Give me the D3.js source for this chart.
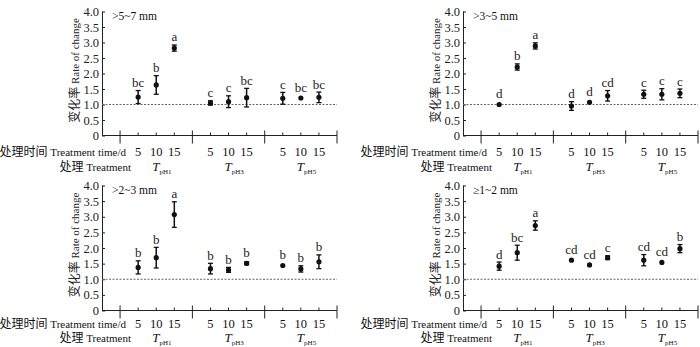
<!DOCTYPE html>
<html>
<head>
<meta charset="utf-8">
<script src="https://cdn.jsdelivr.net/npm/d3@7"></script>
<style>
  body { margin: 0; background: #fff; }
</style>
</head>
<body>
<div id="chart"></div>
<script>
(function() {
  const FONT = '"Liberation Serif", "Noto Sans CJK SC", serif';

  // data
  const sizeClasses = [">5~7 mm", ">3~5 mm", ">2~3 mm", "\u22651~2 mm"];
  const treatments = ["pH1", "pH3", "pH5"];
  const days = ["5", "10", "15"];
  const yTicks = [0, 0.5, 1.0, 1.5, 2.0, 2.5, 3.0, 3.5, 4.0];

  const means57 = [1.24, 1.63, 2.82, 1.05, 1.09, 1.22, 1.20, 1.21, 1.23];
  const errs57 = [0.21, 0.30, 0.10, 0.07, 0.19, 0.30, 0.19, 0.02, 0.17];
  const letters57 = ["bc", "b", "a", "c", "c", "bc", "c", "bc", "bc"];

  const means35 = [1.00, 2.21, 2.89, 0.95, 1.07, 1.28, 1.33, 1.33, 1.36];
  const errs35 = [0.02, 0.10, 0.10, 0.14, 0.03, 0.17, 0.13, 0.18, 0.14];
  const letters35 = ["d", "b", "a", "d", "d", "cd", "c", "c", "c"];

  const means23 = [1.38, 1.69, 3.07, 1.34, 1.30, 1.51, 1.44, 1.33, 1.56];
  const errs23 = [0.21, 0.33, 0.41, 0.17, 0.08, 0.05, 0.02, 0.10, 0.22];
  const letters23 = ["b", "b", "a", "b", "b", "b", "b", "b", "b"];

  const means12 = [1.42, 1.85, 2.72, 1.61, 1.46, 1.69, 1.61, 1.54, 1.98];
  const errs12 = [0.13, 0.24, 0.15, 0.02, 0.02, 0.06, 0.18, 0.02, 0.13];
  const letters12 = ["d", "bc", "a", "cd", "cd", "c", "cd", "cd", "b"];

  const panels = [
    { title: sizeClasses[0], means: means57, errs: errs57, letters: letters57, x0: 102, y0: 135.5, y1: 11.5, row1: 156, row2: 171 },
    { title: sizeClasses[1], means: means35, errs: errs35, letters: letters35, x0: 463, y0: 135.5, y1: 11.5, row1: 156, row2: 171 },
    { title: sizeClasses[2], means: means23, errs: errs23, letters: letters23, x0: 102, y0: 310.5, y1: 185.5, row1: 327.5, row2: 342 },
    { title: sizeClasses[3], means: means12, errs: errs12, letters: letters12, x0: 463, y0: 310.5, y1: 185.5, row1: 327.5, row2: 342 }
  ];

  const svg = d3.select("#chart")
    .append("svg")
      .attr("width", 700)
      .attr("height", 347)
      .attr("font-family", FONT);

  panels.forEach(drawPanel);

  // one font for every text, axis ticks included
  svg.selectAll("text").attr("font-family", FONT);

  // Chinese part a bit larger than the Latin part, like the original
  function mixed(sel, zh, en, enSize) {
    sel.append("tspan").attr("font-size", 12).text(zh);
    sel.append("tspan").attr("font-size", enSize).text(en);
  }

  function drawPanel(p) {
    const g = svg.append("g");

    const y = d3.scaleLinear().domain([0, 4]).range([p.y0, p.y1]);
    // slot positions: boundaries at 1, 5, 9, 13; points in between
    const x = d3.scaleLinear().domain([0, 13]).range([p.x0, p.x0 + 235]);
    const pos = i => 2 + Math.floor(i / 3) * 4 + (i % 3);

    // y axis, ticks pointing inward
    const yAxis = g.append("g")
      .attr("transform", `translate(${p.x0},0)`)
      .call(d3.axisRight(y)
        .tickValues(yTicks)
        .tickSize(3)
        .tickFormat(d => d === 0 ? "0" : d3.format(".1f")(d)));
    yAxis.attr("font-family", null);
    yAxis.select(".domain").attr("d", `M0.5,${p.y1}V${p.y0}`).attr("stroke", "#222");
    yAxis.selectAll(".tick line").attr("stroke", "#222");
    yAxis.selectAll(".tick text")
      .attr("x", -3)
      .attr("text-anchor", "end")
      .attr("font-size", 12.5)
      .attr("fill", "#222");

    // x axis line
    g.append("line")
      .attr("x1", x(0)).attr("x2", x(13))
      .attr("y1", p.y0).attr("y2", p.y0)
      .attr("stroke", "#222");

    // major ticks at group boundaries
    g.selectAll(".major")
      .data([1, 5, 9, 13])
      .enter().append("line")
        .attr("x1", d => x(d)).attr("x2", d => x(d))
        .attr("y1", p.y0 - 5).attr("y2", p.y0 + 8)
        .attr("stroke", "#222");

    // minor ticks at points
    g.selectAll(".minor")
      .data(d3.range(9))
      .enter().append("line")
        .attr("x1", d => x(pos(d))).attr("x2", d => x(pos(d)))
        .attr("y1", p.y0 - 3).attr("y2", p.y0)
        .attr("stroke", "#222");

    // reference line at 1.0
    g.append("line")
      .attr("x1", x(0)).attr("x2", x(13))
      .attr("y1", y(1)).attr("y2", y(1))
      .attr("stroke", "#666")
      .attr("stroke-width", 1)
      .attr("stroke-dasharray", "2,1.5");

    // error bars
    const bars = g.selectAll(".err")
      .data(p.means.map((m, i) => ({ m, e: p.errs[i], i })))
      .enter().append("g");

    bars.filter(d => d.e > 0.04).each(function(d) {
      const b = d3.select(this);
      const cx = x(pos(d.i));
      b.append("line")
        .attr("x1", cx).attr("x2", cx)
        .attr("y1", y(d.m - d.e)).attr("y2", y(d.m + d.e))
        .attr("stroke", "#111").attr("stroke-width", 1.5);
      [d.m - d.e, d.m + d.e].forEach(v => {
        b.append("line")
          .attr("x1", cx - 2.5).attr("x2", cx + 2.5)
          .attr("y1", y(v)).attr("y2", y(v))
          .attr("stroke", "#111").attr("stroke-width", 1.3);
      });
    });

    bars.append("circle")
      .attr("cx", d => x(pos(d.i)))
      .attr("cy", d => y(d.m))
      .attr("r", 2.6)
      .attr("fill", "#111");

    // significance letters
    bars.append("text")
      .attr("x", d => x(pos(d.i)))
      .attr("y", d => Math.min(y(d.m + d.e), y(d.m) - 2.6) - 3.5)
      .attr("text-anchor", "middle")
      .attr("font-size", 13)
      .attr("fill", "#222")
      .text(d => p.letters[d.i]);

    // panel title
    g.append("text")
      .attr("x", p.x0 + 10)
      .attr("y", p.y1 + 8)
      .attr("font-size", 11.5)
      .attr("fill", "#111")
      .text(p.title);

    // y label
    g.append("text")
      .attr("transform", `translate(${p.x0 - 23},${(p.y0 + p.y1) / 2 - 3}) rotate(-90)`)
      .attr("text-anchor", "middle")
      .attr("fill", "#222")
      .call(mixed, "变化率", " Rate of change", 11);

    // day labels
    g.selectAll(".day")
      .data(d3.range(9))
      .enter().append("text")
        .attr("x", d => x(pos(d)))
        .attr("y", p.row1)
        .attr("text-anchor", "middle")
        .attr("font-size", 12.5)
        .attr("fill", "#111")
        .text(d => days[d % 3]);

    g.append("text")
      .attr("x", p.x0 + 24)
      .attr("y", p.row1)
      .attr("text-anchor", "end")
      .attr("fill", "#111")
      .call(mixed, "处理时间", " Treatment time/d", 11);

    g.append("text")
      .attr("x", p.x0 + 29)
      .attr("y", p.row2)
      .attr("text-anchor", "end")
      .attr("fill", "#111")
      .call(mixed, "处理", " Treatment", 11);

    // treatment group labels
    const tl = g.selectAll(".trt")
      .data(treatments)
      .enter().append("text")
        .attr("x", (d, i) => x(i * 4 + 3) - 4)
        .attr("y", p.row2)
        .attr("fill", "#111");
    tl.append("tspan")
      .attr("font-size", 13)
      .attr("font-style", "italic")
      .text("T");
    tl.append("tspan")
      .attr("font-size", 7)
      .attr("dy", 3)
      .text(d => d);
  }
})();
</script>
</body>
</html>
